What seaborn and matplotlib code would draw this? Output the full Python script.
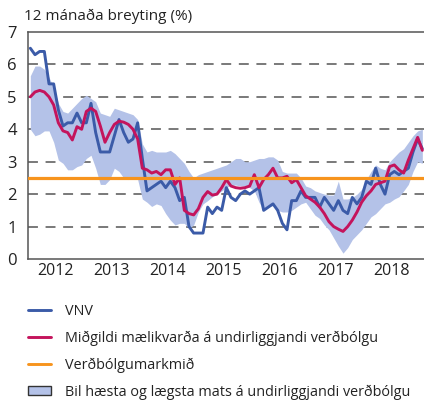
import numpy as np
import pandas as pd
import matplotlib
matplotlib.use("Agg")
import matplotlib.pyplot as plt
import seaborn as sns
from matplotlib.lines import Line2D
from matplotlib.patches import Patch

# ---------------- data (monthly, Jan 2012 - Jan 2019) ----------------
start_year = 2012
vnv = [6.5, 6.3, 6.4, 6.4, 5.4, 5.4, 4.6, 4.1, 4.2, 4.2, 4.5, 4.2,
       4.2, 4.8, 3.9, 3.3, 3.3, 3.3, 3.8, 4.3, 3.9, 3.6, 3.7, 4.2,
       3.1, 2.1, 2.2, 2.3, 2.4, 2.2, 2.4, 2.2, 1.8, 1.9, 1.0, 0.8,
       0.8, 0.8, 1.6, 1.4, 1.6, 1.5, 2.2, 1.9, 1.8, 2.0, 2.1, 2.0,
       2.1, 2.2, 1.5, 1.6, 1.7, 1.5, 1.1, 0.9, 1.8, 1.8, 2.1, 1.9,
       1.9, 1.9, 1.6, 1.9, 1.7, 1.5, 1.8, 1.5, 1.4, 1.9, 1.7, 1.9,
       2.4, 2.3, 2.8, 2.3, 2.0, 2.6, 2.7, 2.6, 2.7, 2.8, 3.3, 3.7,
       3.4]
median_core = [5.0, 5.15, 5.2, 5.15, 5.0, 4.75, 4.2, 3.95, 3.9, 3.67, 4.08, 4.0,
               4.55, 4.65, 4.55, 4.1, 3.6, 3.9, 4.15, 4.25, 4.22, 4.15, 4.0, 3.7,
               2.8, 2.75, 2.65, 2.7, 2.6, 2.75, 2.75, 2.3, 2.5, 1.5, 1.4, 1.36,
               1.55, 1.9, 2.08, 1.97, 2.0, 2.2, 2.45, 2.25, 2.2, 2.18, 2.2, 2.25,
               2.6, 2.2, 2.45, 2.6, 2.8, 2.5, 2.5, 2.55, 2.35, 2.45, 2.2, 1.95,
               1.85, 1.75, 1.6, 1.4, 1.15, 1.0, 0.92, 0.85, 1.0, 1.2, 1.45, 1.75,
               1.95, 2.1, 2.3, 2.35, 2.4, 2.85, 2.9, 2.75, 2.65, 3.05, 3.4, 3.75,
               3.35]
band_high = [5.65, 5.95, 5.95, 5.85, 5.6, 5.3, 4.8, 4.55, 4.5, 4.65, 4.8, 4.95,
             5.05, 4.95, 4.85, 4.5, 4.45, 4.4, 4.65, 4.6, 4.55, 4.5, 4.45, 4.3,
             3.55, 3.3, 3.35, 3.3, 3.3, 3.3, 3.35, 3.25, 3.1, 2.95, 2.7, 2.5,
             2.6, 2.65, 2.7, 2.75, 2.8, 2.85, 2.9, 3.0, 3.1, 3.1, 3.0, 3.0,
             3.05, 3.1, 3.1, 3.15, 3.15, 3.05, 2.7, 2.65, 2.65, 2.65, 2.5, 2.25,
             2.2, 2.1, 2.05, 2.0, 1.97, 1.97, 2.4, 1.85, 1.85, 1.9, 2.0, 2.15,
             2.45, 2.7, 2.9, 2.8, 2.75, 3.0, 3.15, 3.3, 3.4, 3.6, 3.8, 3.95,
             4.0]
band_low = [4.0, 3.8, 3.85, 3.95, 3.95, 3.6, 3.05, 2.95, 2.75, 2.75, 2.85, 2.9,
            3.1, 3.2, 2.8, 2.3, 2.3, 2.45, 2.8, 2.7, 2.5, 2.45, 2.5, 2.45,
            1.85, 1.75, 1.62, 1.7, 1.65, 1.4, 1.2, 1.05, 1.1, 1.1, 0.95, 1.05,
            1.45, 1.7, 1.8, 1.92, 2.0, 2.1, 2.2, 2.28, 2.28, 2.25, 2.25, 2.2,
            2.1, 1.75, 1.5, 1.6, 1.65, 1.5, 1.45, 1.45, 1.5, 1.6, 1.7, 1.75,
            1.55, 1.35, 1.25, 1.05, 0.9, 0.65, 0.4, 0.18, 0.35, 0.6, 0.75, 0.9,
            1.1, 1.3, 1.4, 1.55, 1.7, 1.75, 1.85, 1.92, 2.1, 2.3, 2.7, 3.0,
            2.95]
target = 2.5
years = [2012, 2013, 2014, 2015, 2016, 2017, 2018]
yticks = [0, 1, 2, 3, 4, 5, 6, 7]

labels = ["VNV",
          "Miðgildi mælikvarða á undirliggjandi verðbólgu",
          "Verðbólgumarkmið",
          "Bil hæsta og lægsta mats á undirliggjandi verðbólgu"]
title = "12 mánaða breyting (%)"

# ---------------- styling ----------------
BLUE = "#3b5ba8"
RED = "#c4145c"
ORANGE = "#f7941d"
BAND = "#b4c2e8"
GRID = "#555555"

sns.set_style("white")
plt.rcParams["font.family"] = ["Open Sans", "DejaVu Sans"]
plt.rcParams["text.color"] = "#222222"

n = len(vnv)
x = start_year + (np.arange(n) + 0.5) / 12.0
df = pd.DataFrame({"x": x, "VNV": vnv, "Median": median_core,
                   "high": band_high, "low": band_low})

fig = plt.figure(figsize=(4.24, 4.03), dpi=100)
ax = fig.add_axes([28 / 424, 1 - 259 / 403, 1 - 28 / 424, (259 - 32) / 403])

for yv in yticks[1:-1]:
    ax.axhline(yv, color=GRID, lw=1.1, ls=(0, (6.5, 5)), zorder=1)
ax.fill_between(df["x"], df["low"], df["high"], color=BAND, lw=0, zorder=2)
sns.lineplot(data=df, x="x", y="VNV", color=BLUE, lw=2.1, ax=ax, zorder=4)
sns.lineplot(data=df, x="x", y="Median", color=RED, lw=2.1, ax=ax, zorder=5)
ax.axhline(target, color=ORANGE, lw=2.3, zorder=6)

ax.set_xlim(2012, 2012 + 396 / 56)
ax.set_ylim(0, 7)
ax.set_xlabel("")
ax.set_ylabel("")

ax.set_yticks(yticks)
ax.set_yticklabels([str(v) for v in yticks], fontsize=12)
ax.tick_params(axis="y", length=0, pad=8, colors="#222222")

ax.set_xticks([y for y in years] + [2019])
ax.set_xticklabels([])
ax.set_xticks([y + 0.5 for y in years], minor=True)
ax.set_xticklabels([str(y) for y in years], minor=True, fontsize=11.5)
ax.tick_params(axis="x", which="major", length=5, width=1.1, color=GRID, direction="out")
ax.tick_params(axis="x", which="minor", length=0, pad=3, colors="#222222")

for side in ["left", "bottom", "top"]:
    ax.spines[side].set_color(GRID)
    ax.spines[side].set_linewidth(1.1)
ax.spines["right"].set_visible(False)

fig.text(24 / 424, 1 - 16 / 403, title, fontsize=11, ha="left", va="center")

handles = [Line2D([0], [0], color=BLUE, lw=2.1),
           Line2D([0], [0], color=RED, lw=2.1),
           Line2D([0], [0], color=ORANGE, lw=2.1),
           Patch(facecolor=BAND, edgecolor="#333333", lw=1.0)]
fig.legend(handles, labels, loc="upper left",
           bbox_to_anchor=(28 / 424, 1 - 304 / 403), frameon=False,
           fontsize=10.4, borderpad=0, borderaxespad=0, handlelength=1.6,
           handleheight=0.55, handletextpad=0.95, labelspacing=0.8)

fig.savefig("out.png", dpi=100)
